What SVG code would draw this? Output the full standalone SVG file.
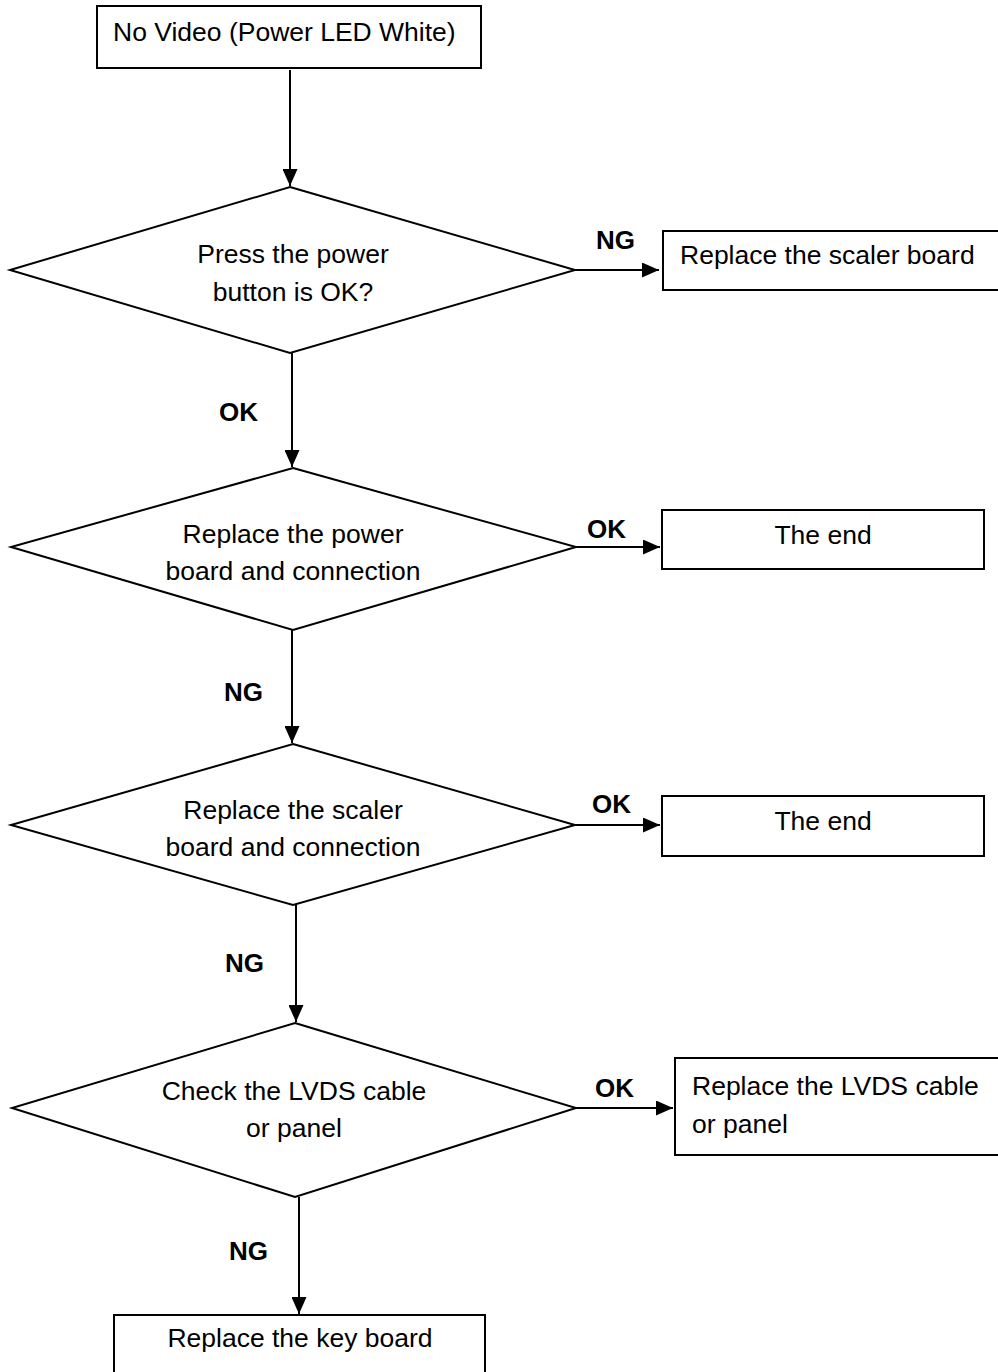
<svg xmlns="http://www.w3.org/2000/svg" width="998" height="1372" viewBox="0 0 998 1372">
<defs>
<style>
.shape{fill:#fff;stroke:#000;stroke-width:2}
.t{font-family:"Liberation Sans",Arial,sans-serif;font-size:26.5px;fill:#000}
.c{text-anchor:middle}
.lbl{font-family:"Liberation Sans",Arial,sans-serif;font-size:26px;font-weight:bold;fill:#000}
.conn{stroke:#000;stroke-width:2;fill:none;marker-end:url(#ah)}
</style>
<marker id="ah" markerUnits="userSpaceOnUse" markerWidth="17" markerHeight="15" refX="17" refY="7.5" orient="auto">
<path d="M0,0 L17,7.5 L0,15 z" fill="#000"/>
</marker>
</defs>
<rect width="998" height="1372" fill="#fff"/>
<g id="start">
<rect class="shape" x="97" y="6" width="384" height="62"/>
<text class="t" x="113" y="41">No Video (Power LED White)</text>
</g>
<g id="d1">
<polygon class="shape" points="290,187 575,270 290,353 10,270"/>
<text class="t c" x="293" y="263">Press the power</text>
<text class="t c" x="293" y="301">button is OK?</text>
</g>
<g id="boxA">
<rect class="shape" x="663" y="231" width="340" height="59"/>
<text class="t" x="680" y="264">Replace the scaler board</text>
</g>
<g id="d2">
<polygon class="shape" points="293,468 576,547 293,630 11,547"/>
<text class="t c" x="293" y="543">Replace the power</text>
<text class="t c" x="293" y="580">board and connection</text>
</g>
<g id="boxB">
<rect class="shape" x="662" y="510" width="322" height="59"/>
<text class="t c" x="823" y="544">The end</text>
</g>
<g id="d3">
<polygon class="shape" points="293,744 575,825 293,905 11,825"/>
<text class="t c" x="293" y="819">Replace the scaler</text>
<text class="t c" x="293" y="856">board and connection</text>
</g>
<g id="boxC">
<rect class="shape" x="662" y="796" width="322" height="60"/>
<text class="t c" x="823" y="830">The end</text>
</g>
<g id="d4">
<polygon class="shape" points="295,1023 576,1108 295,1197 12,1108"/>
<text class="t c" x="294" y="1100">Check the LVDS cable</text>
<text class="t c" x="294" y="1137">or panel</text>
</g>
<g id="boxD">
<rect class="shape" x="675" y="1058" width="330" height="97"/>
<text class="t" x="692" y="1095">Replace the LVDS cable</text>
<text class="t" x="692" y="1133">or panel</text>
</g>
<g id="boxE">
<rect class="shape" x="114" y="1315" width="371" height="62"/>
<text class="t c" x="300" y="1347">Replace the key board</text>
</g>
<g id="connectors">
<line class="conn" x1="290" y1="70" x2="290" y2="186"/>
<line class="conn" x1="575" y1="270" x2="659" y2="270"/>
<line class="conn" x1="292" y1="353" x2="292" y2="467"/>
<line class="conn" x1="576" y1="547" x2="660" y2="547"/>
<line class="conn" x1="292" y1="630" x2="292" y2="743"/>
<line class="conn" x1="575" y1="825" x2="660" y2="825"/>
<line class="conn" x1="296" y1="905" x2="296" y2="1022"/>
<line class="conn" x1="576" y1="1108" x2="673" y2="1108"/>
<line class="conn" x1="299" y1="1197" x2="299" y2="1314"/>
<text class="lbl" x="596" y="249">NG</text>
<text class="lbl" x="219" y="421">OK</text>
<text class="lbl" x="587" y="538">OK</text>
<text class="lbl" x="224" y="701">NG</text>
<text class="lbl" x="592" y="813">OK</text>
<text class="lbl" x="225" y="972">NG</text>
<text class="lbl" x="595" y="1097">OK</text>
<text class="lbl" x="229" y="1260">NG</text>
</g>
</svg>
